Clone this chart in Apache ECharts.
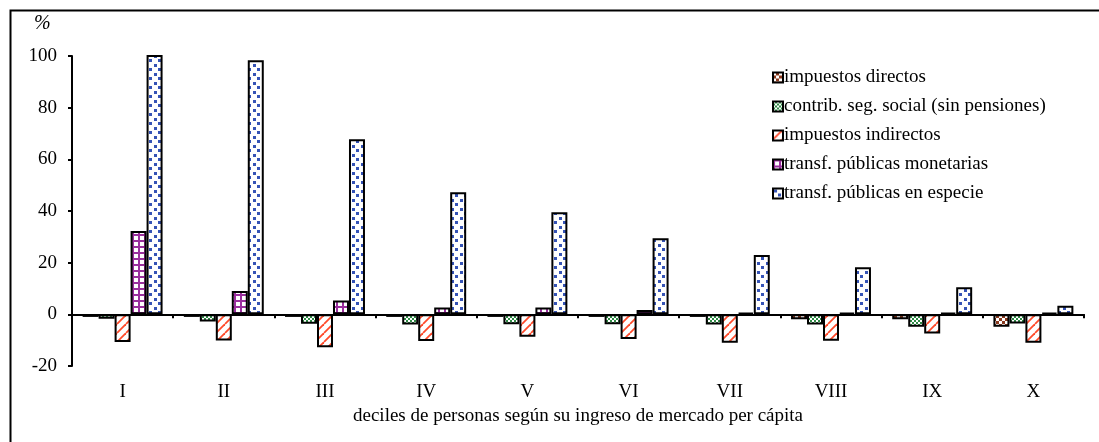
<!DOCTYPE html>
<html>
<head>
<meta charset="utf-8">
<script src="https://cdn.jsdelivr.net/npm/echarts@6/dist/echarts.min.js"></script>
<style>
  html, body { margin: 0; padding: 0; background: #fff; }
  #chart { width: 1099px; height: 442px; }
</style>
</head>
<body>
<div id="chart"></div>
<script>
// deciles
const deciles = ['I', 'II', 'III', 'IV', 'V', 'VI', 'VII', 'VIII', 'IX', 'X'];
const seriesNames = [
  'impuestos directos',
  'contrib. seg. social (sin pensiones)',
  'impuestos indirectos',
  'transf. públicas monetarias',
  'transf. públicas en especie'
];
const impDirectos = [-1, -1, -1, -1, -1, -1, -1, -1.9, -1.9, -4.8];
const contribSS = [-1.7, -2.8, -3.6, -3.9, -3.8, -3.8, -3.9, -3.9, -4.8, -3.5];
const impIndirectos = [-10.7, -10.1, -12.7, -10.3, -8.7, -9.5, -11, -10.2, -7.4, -11];
const transfMonet = [32.3, 9, 5.4, 2.6, 2.6, 1.7, 0.6, 0.6, 0.6, 0.6];
const transfEspecie = [104, 98.4, 67.8, 47.3, 39.5, 29.5, 23, 18.2, 10.5, 3.3];
const yTicks = { min: -20, max: 100, interval: 20 };

function makePattern(size, draw) {
  const c = document.createElement('canvas');
  c.width = size; c.height = size;
  const ctx = c.getContext('2d');
  draw(ctx, size);
  return { image: c, repeat: 'repeat' };
}

// brown checker
const patDirectos = makePattern(6, (ctx) => {
  ctx.fillStyle = '#8b3a1e'; ctx.fillRect(0, 0, 6, 6);
  ctx.fillStyle = '#fff'; ctx.fillRect(0, 0, 3, 3); ctx.fillRect(3, 3, 3, 3);
});
// small green checker
const patContrib = makePattern(4, (ctx) => {
  ctx.fillStyle = '#2e8b45'; ctx.fillRect(0, 0, 4, 4);
  ctx.fillStyle = '#fff'; ctx.fillRect(0, 0, 2, 2); ctx.fillRect(2, 2, 2, 2);
});
// red diagonals
const patIndirectos = makePattern(9, (ctx, s) => {
  ctx.fillStyle = '#fff'; ctx.fillRect(0, 0, s, s);
  ctx.strokeStyle = '#ff4a2a'; ctx.lineWidth = 1.8;
  for (let k = -1; k <= 1; k++) {
    ctx.beginPath(); ctx.moveTo(k * s, s); ctx.lineTo(k * s + s, 0); ctx.stroke();
  }
});
// purple grid
const patMonet = makePattern(6, (ctx, s) => {
  ctx.fillStyle = '#fff'; ctx.fillRect(0, 0, s, s);
  ctx.fillStyle = '#9a2f9e';
  ctx.fillRect(0, 0, s, 2); ctx.fillRect(0, 0, 2, s);
});
// blue squares
const patEspecie = makePattern(9, (ctx, s) => {
  ctx.fillStyle = '#fff'; ctx.fillRect(0, 0, s, s);
  ctx.fillStyle = '#3553b6';
  ctx.fillRect(1, 1, 3, 3); ctx.fillRect(5, 5, 3, 3);
});

const patterns = [patDirectos, patContrib, patIndirectos, patMonet, patEspecie];
const values = [impDirectos, contribSS, impIndirectos, transfMonet, transfEspecie];

const font = "'Liberation Serif', 'Times New Roman', serif";

const chart = echarts.init(document.getElementById('chart'), null, { renderer: 'canvas' });

chart.setOption({
  animation: false,
  backgroundColor: '#fff',
  textStyle: { fontFamily: font, color: '#000' },
  grid: { left: 72, right: 15, top: 56, bottom: 76 },
  legend: {
    orient: 'vertical',
    left: 767,
    top: 63,
    itemWidth: 10,
    itemHeight: 10,
    itemGap: 10,
    icon: 'rect',
    data: seriesNames,
    textStyle: { fontFamily: font, fontSize: 19, color: '#000', padding: [0, 0, 0, -4] }
  },
  xAxis: [
    {
      // zero line with ticks between deciles
      type: 'category',
      data: deciles,
      position: 'bottom',
      axisLine: { onZero: true, lineStyle: { color: '#000', width: 2 } },
      axisTick: { show: true, length: 4, lineStyle: { color: '#000', width: 2 } },
      axisLabel: { show: false }
    },
    {
      type: 'category',
      data: deciles,
      position: 'bottom',
      axisLine: { show: false, onZero: false },
      axisTick: { show: false },
      axisLabel: { margin: 17, fontFamily: font, fontSize: 19, color: '#000' },
      name: 'deciles de personas según su ingreso de mercado per cápita',
      nameLocation: 'middle',
      nameGap: 40,
      nameTextStyle: { fontFamily: font, fontSize: 19, color: '#000' }
    }
  ],
  yAxis: {
    type: 'value',
    min: yTicks.min,
    max: yTicks.max,
    interval: yTicks.interval,
    axisLine: { show: true, lineStyle: { color: '#000', width: 2 } },
    axisTick: { show: true, length: 4, lineStyle: { color: '#000', width: 2 } },
    splitLine: { show: false },
    axisLabel: { margin: 15, fontFamily: font, fontSize: 19, color: '#000' }
  },
  graphic: [
    {
      type: 'rect',
      shape: { x: 10.5, y: 10.5, width: 1200, height: 600 },
      style: { fill: 'none', stroke: '#000', lineWidth: 2 },
      silent: true
    },
    {
      type: 'text',
      left: 34,
      top: 14,
      style: { text: '%', font: 'italic 20px ' + font, fill: '#000' }
    }
  ],
  series: seriesNames.map((name, i) => ({
    name: name,
    type: 'bar',
    xAxisIndex: 0,
    data: values[i],
    barGap: '0%',
    barCategoryGap: '21%',
    itemStyle: { color: patterns[i], borderColor: '#000', borderWidth: 2 }
  }))
});
</script>
</body>
</html>
